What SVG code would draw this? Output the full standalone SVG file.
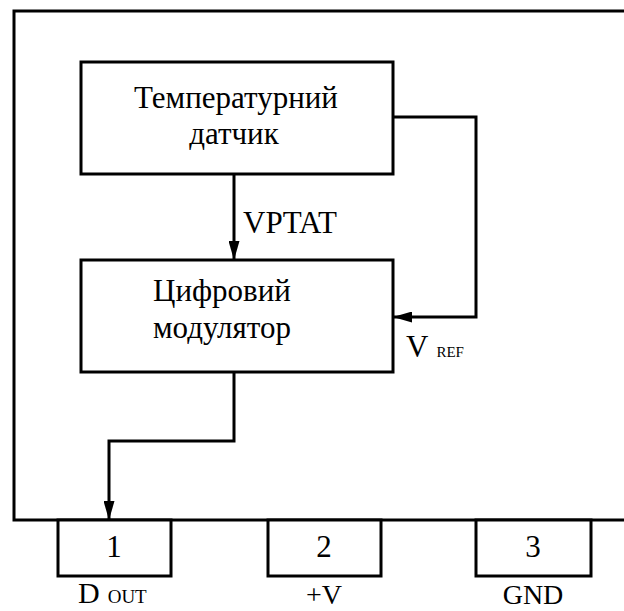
<svg xmlns="http://www.w3.org/2000/svg" width="624" height="611" viewBox="0 0 624 611">
<defs>
<style>
.ln{fill:none;stroke:#000;stroke-width:3;stroke-linejoin:miter}
.bx{fill:#fff;stroke:#000;stroke-width:3}
text{font-family:"Liberation Serif","Times New Roman",serif;fill:#000}
.t{font-size:31px;text-anchor:middle}
.l{font-size:31px}
.s{font-size:15px}
.b{font-size:28px;text-anchor:middle}
</style>
<marker id="arr" viewBox="0 0 19 11" refX="19" refY="5.5" markerWidth="19" markerHeight="11" markerUnits="userSpaceOnUse" orient="auto">
<path d="M0,0 L19,5.5 L0,11 Z" fill="#000"/>
</marker>
</defs>
<rect width="624" height="611" fill="#fff"/>
<g id="chip">
<path class="ln" d="M630,11 H14 V520 H630"/>
</g>
<g id="connectors">
<path class="ln" d="M234,174 V260" marker-end="url(#arr)"/>
<path class="ln" d="M393,117 H476 V317 H393" marker-end="url(#arr)"/>
<path class="ln" d="M234,372 V441 H109 V520" marker-end="url(#arr)"/>
</g>
<g id="sensor">
<rect class="bx" x="81" y="62" width="312" height="112"/>
<text class="t" x="236" y="108">Температурний</text>
<text class="t" x="234" y="144">датчик</text>
</g>
<g id="modulator">
<rect class="bx" x="81" y="260" width="312" height="112"/>
<text class="t" x="222" y="301">Цифровий</text>
<text class="t" x="222" y="338">модулятор</text>
</g>
<g id="labels">
<text class="l" x="243" y="233">VPTAT</text>
<text class="l" x="406" y="357">V<tspan class="s" dx="8">REF</tspan></text>
</g>
<g id="pin1">
<rect class="bx" x="58" y="520" width="113" height="56"/>
<text class="t" x="114" y="557">1</text>
<text x="78" y="603" style="font-size:30px">D<tspan dx="8" style="font-size:19px">OUT</tspan></text>
</g>
<g id="pin2">
<rect class="bx" x="268" y="520" width="113" height="56"/>
<text class="t" x="324" y="557">2</text>
<text class="b" x="324" y="604">+V</text>
</g>
<g id="pin3">
<rect class="bx" x="476" y="520" width="115" height="56"/>
<text class="t" x="533" y="557">3</text>
<text class="b" x="533" y="604">GND</text>
</g>
</svg>
